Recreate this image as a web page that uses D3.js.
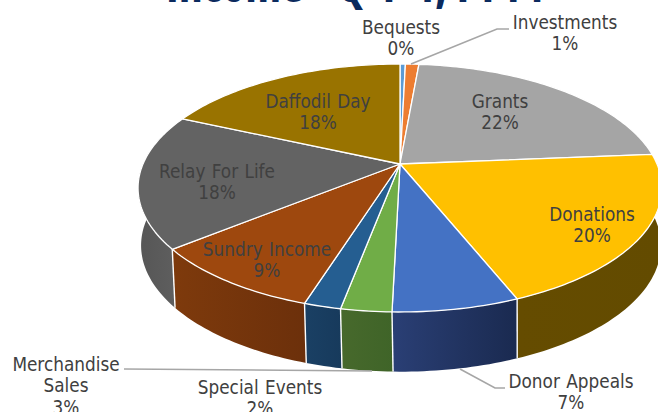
<!DOCTYPE html>
<html><head><meta charset="utf-8">
<script src="https://cdn.jsdelivr.net/npm/d3@7/dist/d3.min.js"></script>
<style>html,body{margin:0;background:#fff}svg{display:block}text{font-family:"DejaVu Sans";font-stretch:condensed;word-spacing:1px}</style>
</head><body><svg id="c" width="658" height="412"></svg>
<script>
const categories=["Bequests","Investments","Grants","Donations","Donor Appeals","Merchandise Sales","Special Events","Sundry Income","Relay For Life","Daffodil Day"];
const values=[0.4,1.0,22.3,20.2,6.5,2.6,1.9,9.3,17.5,18.3];
const topColors=["#5B9BD5","#ED7D31","#A5A5A5","#FFC000","#4472C4","#70AD47","#255E91","#9E480E","#636363","#997300"];
const wallLeft=["#4a7ba8","#b85f25","#808080","#654c00","#2a3f75","#47692c","#1a4064","#7e3a0c","#565656","#6a5000"];
const wallRight=["#4a7ba8","#b85f25","#808080","#634b00","#1a2a50","#3f6428","#173a5c","#6c300b","#5e5e5e","#6a5000"];
const titleText="Income - Q 1-4, FY14";
const svg=d3.select("#c");
const topPlane={cx:400,cy:164,a:257,b:119.35,p:0.1935};
const botPlane={cx:401,cy:221,a:255,b:121.5,p:0.1935};
const project=(pl,t)=>{const u=Math.sin(t),v=-Math.cos(t),d=1-pl.p*v;return [pl.cx+pl.a*u/d,pl.cy+pl.b*v/d];};
const pie=d3.pie().sort(null).value(d=>d);
const arcs=pie(values);
const line=d3.line();
const samples=(a0,a1)=>{const n=Math.max(2,Math.ceil((a1-a0)/0.02));return d3.range(n+1).map(i=>a0+(a1-a0)*i/n);};
const defs=svg.append("defs");
const wallMin=80*Math.PI/180,wallMax=285*Math.PI/180;
arcs.forEach((d,i)=>{
  const a0=Math.max(d.startAngle,wallMin),a1=Math.min(d.endAngle,wallMax);
  if(a1<=a0)return;
  const g=defs.append("linearGradient").attr("id","w"+i);
  g.append("stop").attr("offset","0").attr("stop-color",wallLeft[i]);
  g.append("stop").attr("offset","1").attr("stop-color",wallRight[i]);
  const ts=samples(a0,a1);
  const poly=ts.map(t=>project(topPlane,t)).concat(ts.slice().reverse().map(t=>project(botPlane,t)));
  svg.append("path").attr("d",line(poly)+"Z").attr("fill",`url(#w${i})`);
});
arcs.forEach(d=>{
  const t=d.endAngle;
  if(t>Math.PI*0.5&&t<Math.PI*1.45)
    svg.append("path").attr("d",line([project(topPlane,t),project(botPlane,t)])).attr("stroke","#fff").attr("stroke-width",1.4).attr("fill","none");
});
arcs.forEach((d,i)=>{
  const pts=[[topPlane.cx,topPlane.cy]].concat(samples(d.startAngle,d.endAngle).map(t=>project(topPlane,t)));
  svg.append("path").attr("d",line(pts)+"Z").attr("fill",topColors[i]).attr("stroke","#fff").attr("stroke-width",1.3).attr("stroke-linejoin","round");
});
const leaders=[
 [[411,64],[497,29],[509,29]],
 [[124,369],[372,371]],
 [[460,369],[495,388],[505,388]]
];
leaders.forEach(l=>svg.append("path").attr("d",line(l)).attr("fill","none").attr("stroke","#a6a6a6").attr("stroke-width",1.6));
const labelPos=[[401,27],[565,22],[500,101],[592,214],[571,381],[66,364],[260,387],[267,249],[217,171],[318,101]];
const lh=21.8;
const nameLines=i=>i===5?["Merchandise","Sales"]:[categories[i]];
labelPos.forEach((p,i)=>{
  const t=svg.append("text").attr("text-anchor","middle").attr("font-size",18.8).attr("fill","#404040");
  const ls=nameLines(i).concat([Math.round(values[i])+"%"]);
  ls.forEach((s,k)=>t.append("tspan").attr("x",p[0]).attr("y",p[1]+6.5+k*lh).text(s));
});
svg.append("text").attr("x",166).attr("y",2).attr("text-anchor","start").attr("font-size",48).attr("font-weight","bold").attr("fill","#0b2a5e").style("font-family","'Open Sans'").text(titleText);
</script></body></html>
